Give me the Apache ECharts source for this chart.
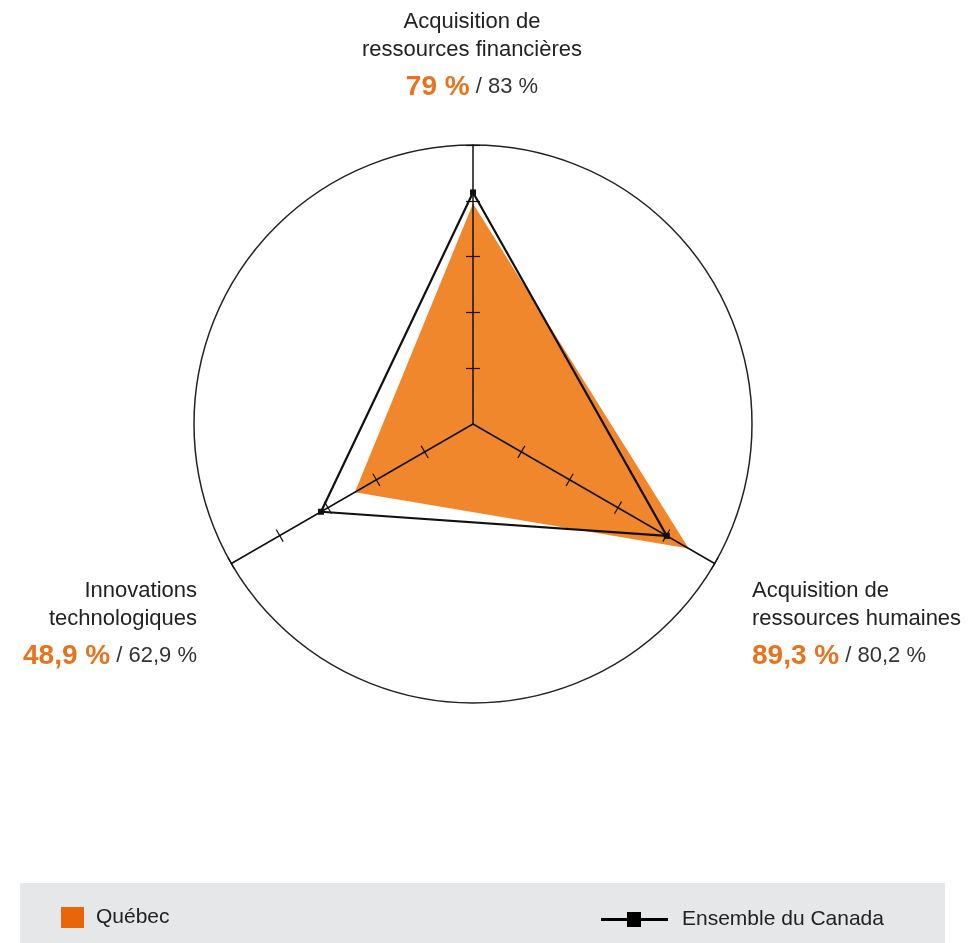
<!DOCTYPE html>
<html>
<head>
<meta charset="utf-8">
<script src="https://cdn.jsdelivr.net/npm/echarts@6/dist/echarts.min.js"></script>
<style>
html,body{margin:0;padding:0;background:#fff;}
#chart{width:970px;height:943px;}
</style>
</head>
<body>
<div id="chart"></div>
<script>
// ---- data ----
const categories = ['Acquisition de\nressources financières', 'Innovations\ntechnologiques', 'Acquisition de\nressources humaines'];
const seriesNames = ['Québec', 'Ensemble du Canada'];
const quebecValues = [79, 48.9, 89.3];
const canadaValues = [83, 62.9, 80.2];
const tickValues = [20, 40, 60, 80, 100];

// ---- helpers ----
function fmt(v) { return String(v).replace('.', ',') + ' %'; }
function labelText(i) {
  const lines = categories[i].split('\n').map(l => '{n|' + l + '}');
  return lines.join('\n') + '\n{q|' + fmt(quebecValues[i]) + '}{c| / ' + fmt(canadaValues[i]) + '}';
}
const FONT = '"Liberation Sans", Arial, Helvetica, sans-serif';
const rich = {
  n: { fontFamily: FONT, fontSize: 22, lineHeight: 28, fill: '#222', color: '#222' },
  q: { fontFamily: FONT, fontSize: 28, fontWeight: 'bold', lineHeight: 46, fill: '#E8731F', color: '#E8731F' },
  c: { fontFamily: FONT, fontSize: 22, lineHeight: 46, fill: '#333', color: '#333' }
};

const CENTER = [473, 424];
const RADIUS = 279;
const indicators = categories.map(n => ({ name: n, min: 0, max: 100 }));

const baseRadar = {
  center: CENTER,
  radius: RADIUS,
  startAngle: 90,
  shape: 'circle',
  splitNumber: 5,
  indicator: indicators,
  axisName: { show: false },
  splitArea: { show: false }
};

const chart = echarts.init(document.getElementById('chart'), null, { renderer: 'canvas' });
const option = {
  animation: false,
  backgroundColor: '#fff',
  radar: [
    Object.assign({}, baseRadar, {
      z: 4,
      axisLine: { show: true, lineStyle: { color: '#111', width: 1.5 } },
      axisTick: { show: true, inside: false, length: 7, customValues: tickValues, lineStyle: { color: '#111', width: 1.2 } },
      splitLine: { show: false }
    }),
    Object.assign({}, baseRadar, {
      z: 4,
      axisLine: { show: true, lineStyle: { color: 'rgba(0,0,0,0)', width: 0 } },
      axisTick: { show: true, inside: false, length: -7, customValues: tickValues, lineStyle: { color: '#111', width: 1.2 } },
      splitLine: { show: false }
    }),
    Object.assign({}, baseRadar, {
      z: 4,
      axisLine: { show: false },
      axisTick: { show: false },
      splitLine: { show: true, lineStyle: { width: 1.5, color: ['rgba(0,0,0,0)', 'rgba(0,0,0,0)', 'rgba(0,0,0,0)', 'rgba(0,0,0,0)', 'rgba(0,0,0,0)', '#222'] } }
    })
  ],
  legend: [
    {
      left: 56, top: 902,
      icon: 'rect', itemWidth: 23, itemHeight: 21,
      data: [{ name: seriesNames[0], itemStyle: { color: '#E8650A' } }],
      textStyle: { fontFamily: FONT, fontSize: 21, color: '#222', padding: [0, 0, 0, 7] },
      selectedMode: false
    },
    {
      left: 596, top: 904,
      icon: 'path://M0,6 L26,6 L26,0 L40,0 L40,6 L67,6 L67,9 L40,9 L40,15 L26,15 L26,9 L0,9 Z',
      itemWidth: 67, itemHeight: 15,
      data: [{ name: seriesNames[1], itemStyle: { color: '#000' } }],
      textStyle: { fontFamily: FONT, fontSize: 21, color: '#222', padding: [0, 0, 0, 9] },
      selectedMode: false
    }
  ],
  graphic: [
    { type: 'rect', z: -10, shape: { x: 20, y: 883, width: 925, height: 60 }, style: { fill: '#E6E7E8' } },
    { type: 'text', x: 472, y: 8, style: { text: labelText(0), rich: rich, align: 'center', verticalAlign: 'top', textAlign: 'center', textVerticalAlign: 'top' } },
    { type: 'text', x: 197, y: 577, style: { text: labelText(1), rich: rich, align: 'right', verticalAlign: 'top', textAlign: 'right', textVerticalAlign: 'top' } },
    { type: 'text', x: 752, y: 577, style: { text: labelText(2), rich: rich, align: 'left', verticalAlign: 'top', textAlign: 'left', textVerticalAlign: 'top' } }
  ],
  series: [
    {
      type: 'radar', radarIndex: 0, name: seriesNames[0], z: 1,
      symbol: 'none',
      lineStyle: { width: 0, opacity: 0 },
      itemStyle: { color: '#F1872D' },
      areaStyle: { color: '#F1872D', opacity: 1 },
      data: [{ value: quebecValues, name: seriesNames[0] }]
    },
    {
      type: 'radar', radarIndex: 0, name: seriesNames[1], z: 6,
      symbol: 'rect', symbolSize: 6,
      lineStyle: { width: 2.2, color: '#111' },
      itemStyle: { color: '#111' },
      data: [{ value: canadaValues, name: seriesNames[1] }]
    }
  ]
};
chart.setOption(option);
</script>
</body>
</html>
